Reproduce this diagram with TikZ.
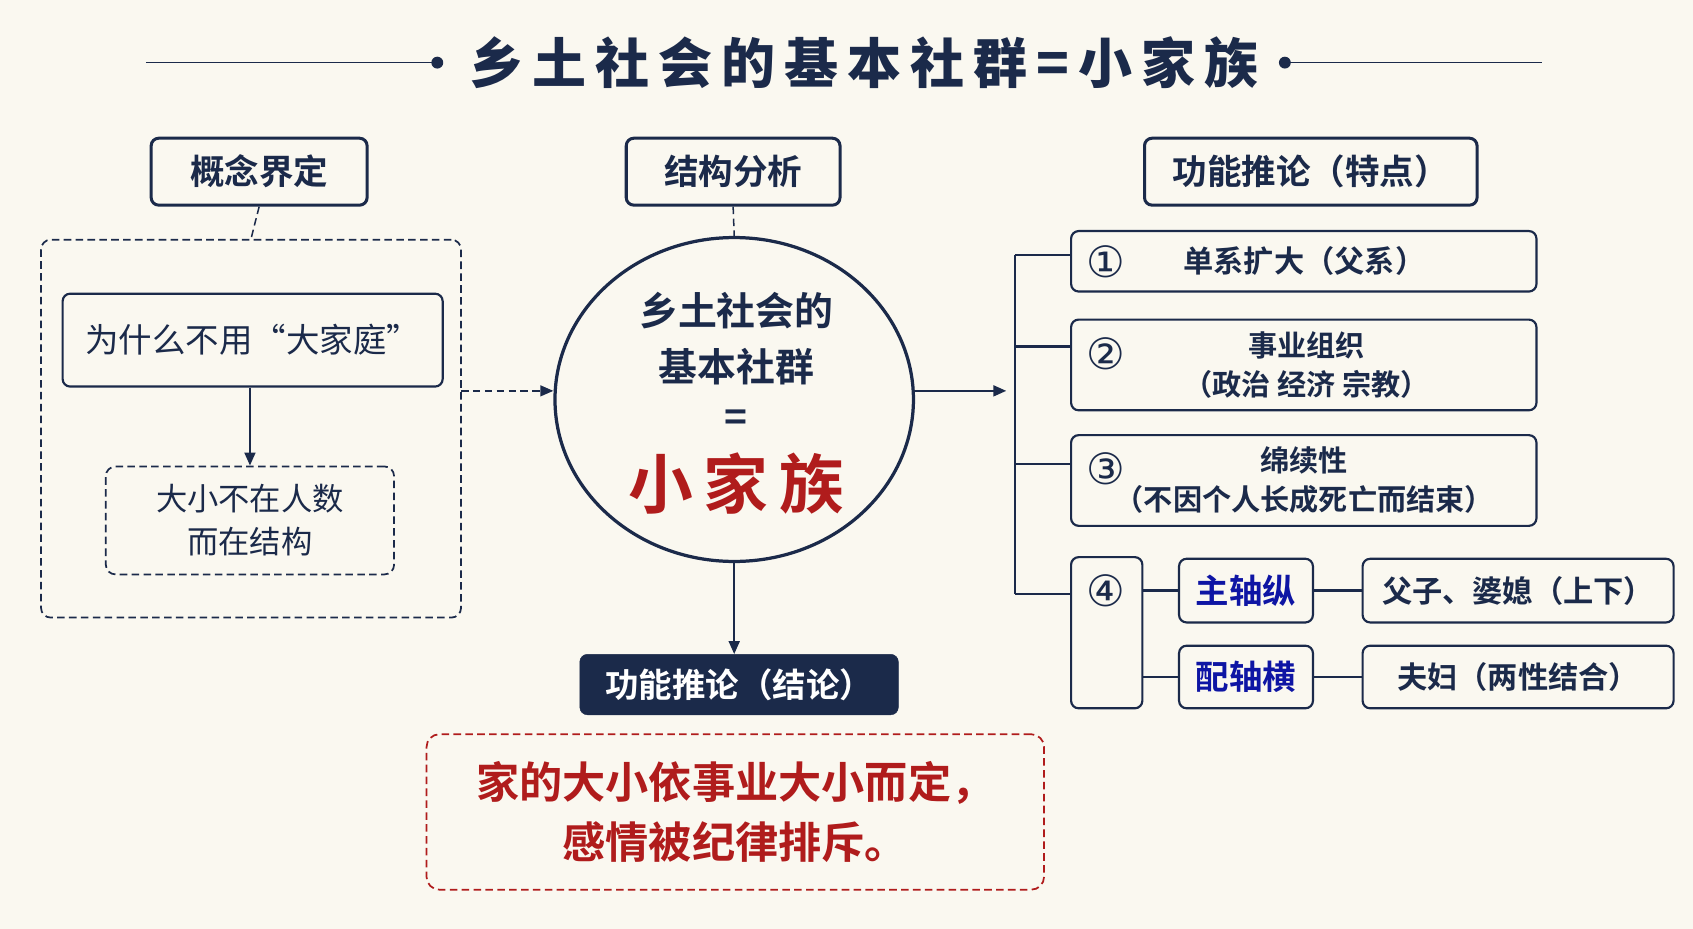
\documentclass[tikz,border=0pt]{standalone}
\usepackage{fontspec}
\setmainfont{Noto Sans CJK SC}[BoldFont={Noto Sans CJK SC Bold}]
\newfontfamily\cjk{Noto Sans CJK SC}
\newfontfamily\sym{DejaVu Sans}
\usetikzlibrary{arrows.meta,shapes.geometric}
\definecolor{navy}{HTML}{1B2A4A}
\definecolor{rd}{HTML}{B01C1C}
\definecolor{bg}{HTML}{FAF8F0}
\begin{document}
\begin{tikzpicture}[x=1pt,y=-1pt,
  box/.style={draw=navy,line width=2.8pt,rounded corners=7pt,fill=bg,text=navy},
  tbox/.style={draw=navy,line width=2pt,rounded corners=7pt,text=navy},
  dsh/.style={dash pattern=on 7pt off 4pt},
  dbox/.style={draw=navy,line width=1.6pt,dsh,rounded corners=9pt},
  ln/.style={draw=navy,line width=2.2pt},
  arr/.style={ln,-{Triangle[length=12pt,width=10pt]}},
  num/.style={text=navy,font=\sym\fontsize{40}{40}\selectfont}]
\fill[bg] (0,0) rectangle (1568,860);
\useasboundingbox (0,0) rectangle (1568,860);
% title
\node[text=navy,font=\cjk\bfseries\fontsize{50}{50}\selectfont] (title) at (800,58) {乡\,土\,社\,会\,的\,基\,本\,社\,群\,=\,小\,家\,族};
\coordinate (tl) at (135,58); \coordinate (tld) at (405,58);
\coordinate (trd) at (1190,58); \coordinate (tr) at (1428,58);
\draw[ln,line width=1.4pt] (tl) -- (tld); \fill[navy] (tld) circle (5.5);
\draw[ln,line width=1.4pt] (trd) -- (tr); \fill[navy] (trd) circle (5.5);
% headers
\node[box,minimum width=200,minimum height=62,font=\bfseries\fontsize{32}{32}\selectfont] (h1) at (240,159) {概念界定};
\node[box,minimum width=198,minimum height=62,font=\bfseries\fontsize{32}{32}\selectfont] (h2) at (679,159) {结构分析};
\node[box,minimum width=308,minimum height=62,font=\bfseries\fontsize{32}{32}\selectfont] (h3) at (1214,159) {功能推论（特点）};
% left
\node[dbox,minimum width=389,minimum height=350] (lb) at (232.5,397) {};
\draw[ln,line width=1.4pt,dsh] (h1.south) -- (lb.north);
\node[tbox,minimum width=352,minimum height=86,font=\fontsize{31}{31}\selectfont] (q) at (234,315) {为什么不用“大家庭”};
\node[dbox,minimum width=267,minimum height=100,text=navy,align=center,font=\fontsize{29}{40}\selectfont] (a) at (231.5,482) {大小不在人数\\而在结构};
\draw[arr,line width=2pt] (q.south -| a.north) -- (a.north);
% circle
\node[ellipse,draw=navy,line width=3pt,fill=bg,minimum width=332,minimum height=300] (c) at (680,370) {};
\node[text=navy,font=\bfseries\fontsize{36}{36}\selectfont] (c1) at (682,288) {乡土社会的};
\node[text=navy,font=\bfseries\fontsize{36}{36}\selectfont] (c2) at (682,340) {基本社群};
\node[text=navy,font=\bfseries\fontsize{36}{36}\selectfont] (c3) at (682,390) {=};
\node[text=rd,font=\bfseries\fontsize{60}{60}\selectfont] (c4) at (682,448) {小\,家\,族};
\draw[ln,line width=1.4pt,dsh] (h2.south) -- (c.north);
\coordinate (lbr) at (427,362);
\draw[arr,line width=1.6pt,dsh] (lbr) -- (c.west |- lbr);
% bottom
\node[draw=navy,fill=navy,rounded corners=7pt,text=white,minimum width=295,minimum height=56,font=\bfseries\fontsize{31}{31}\selectfont] (f) at (684.5,634) {功能推论（结论）};
\draw[arr] (c.south) -- (f.north -| c.south);
\node[draw=rd,line width=1.6pt,dsh,rounded corners=12pt,minimum width=572,minimum height=144,text=rd,align=center,font=\bfseries\fontsize{40}{56}\selectfont] (con) at (681,752) {家的大小依事业大小而定，\\感情被纪律排斥。};
% right
\coordinate (br) at (932,362);
\draw[arr] (c.east |- br) -- (br);
\node[tbox,minimum width=431,minimum height=56] (r1) at (1207.5,242) {};
\node[tbox,minimum width=431,minimum height=84] (r2) at (1207.5,338) {};
\node[tbox,minimum width=431,minimum height=84] (r3) at (1207.5,445) {};
\node[tbox,minimum width=66,minimum height=140] (r4) at (1025,586) {};
\coordinate (v1) at (940,236); \coordinate (v4) at (940,550);
\draw[ln] (v1) -- (v4);
\draw[ln] (v1) -- (r1.west |- v1);
\draw[ln] (940,321) -- (r2.west |- 0,321);
\draw[ln] (940,430) -- (r3.west |- 0,430);
\draw[ln] (v4) -- (r4.west |- v4);
\node[num] (n1) at (1024,242) {①};
\node[num] (n2) at (1024,328) {②};
\node[num] (n3) at (1024,434) {③};
\node[num] (n4) at (1024,547) {④};
\node[text=navy,font=\bfseries\fontsize{28}{28}\selectfont] (t1) at (1208,242) {单系扩大（父系）};
\node[text=navy,align=center,font=\bfseries\fontsize{27}{36}\selectfont] (t2) at (1210,338) {事业组织\\（政治 经济 宗教）};
\node[text=navy,align=center,font=\bfseries\fontsize{27}{36}\selectfont] (t3) at (1208,445) {绵续性\\（不因个人长成死亡而结束）};
\node[tbox,minimum width=124,minimum height=59,text=blue!50!navy,font=\bfseries\fontsize{31}{31}\selectfont] (z) at (1154,547) {主轴纵};
\node[tbox,minimum width=124,minimum height=58,text=blue!50!navy,font=\bfseries\fontsize{31}{31}\selectfont] (p) at (1154,627) {配轴横};
\node[tbox,minimum width=288,minimum height=59,font=\bfseries\fontsize{28}{28}\selectfont] (zr) at (1406,547) {父子、婆媳（上下）};
\node[tbox,minimum width=288,minimum height=58,font=\bfseries\fontsize{28}{28}\selectfont] (pr) at (1406,627) {夫妇（两性结合）\hspace{36pt}};
\draw[ln] (r4.east |- z) -- (z.west);
\draw[ln] (r4.east |- p) -- (p.west);
\draw[ln] (z.east) -- (zr.west);
\draw[ln] (p.east) -- (pr.west);
\end{tikzpicture}
\end{document}
